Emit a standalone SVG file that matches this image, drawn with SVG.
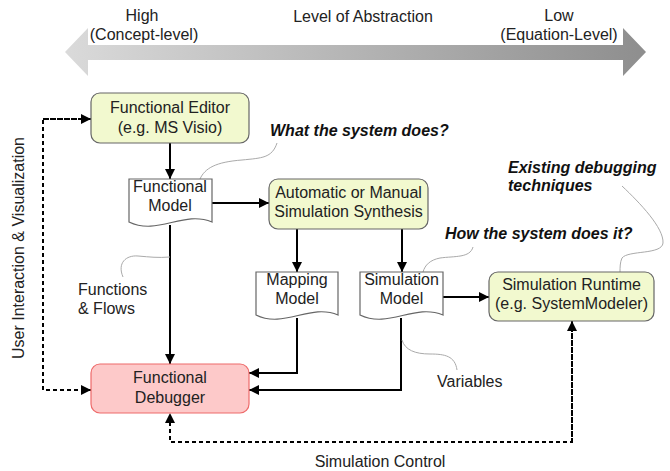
<svg xmlns="http://www.w3.org/2000/svg" width="670" height="471" viewBox="0 0 670 471">
<defs>
<linearGradient id="gr" x1="0" y1="0" x2="1" y2="0">
<stop offset="0" stop-color="#dadada"/>
<stop offset="1" stop-color="#8e8e8e"/>
</linearGradient>
<marker id="ah" viewBox="0 0 10 10" refX="10" refY="5" markerWidth="10" markerHeight="10" markerUnits="userSpaceOnUse" orient="auto">
<path d="M0,0 L10,5 L0,10 z" fill="#000"/>
</marker>
</defs>
<style>
text{font-family:"Liberation Sans",Arial,sans-serif;font-size:16px;fill:#222}
.c{text-anchor:middle}
.bi{font-weight:bold;font-style:italic;fill:#111}
.g{fill:#f2f9cf;stroke:#666;stroke-width:1.2}
.r{fill:#fdc9c9;stroke:#ee6a6a;stroke-width:1.2}
.doc{fill:#fff;stroke:#666;stroke-width:1.2}
.ln{fill:none;stroke:#000;stroke-width:2}
.dt{fill:none;stroke:#000;stroke-width:2;stroke-dasharray:4,3}
.cv{fill:none;stroke:#aaa;stroke-width:1}
</style>

<g id="abstraction-axis">
<path d="M65,52 L88,28 L88,45 L623,45 L623,28 L646,52 L623,76 L623,60 L88,60 L88,76 Z" fill="url(#gr)"/>
<text class="c" x="142" y="21">High</text>
<text class="c" x="144" y="40">(Concept-level)</text>
<text class="c" x="363" y="22">Level of Abstraction</text>
<text class="c" x="559" y="21">Low</text>
<text class="c" x="559" y="40">(Equation-Level)</text>
</g>

<g id="connectors">
<path class="ln" d="M170,143 L170,179" marker-end="url(#ah)"/>
<path class="ln" d="M212,203 L269,203" marker-end="url(#ah)"/>
<path class="ln" d="M297,229 L297,272" marker-end="url(#ah)"/>
<path class="ln" d="M402,229 L402,272" marker-end="url(#ah)"/>
<path class="ln" d="M443,297 L489,297" marker-end="url(#ah)"/>
<path class="ln" d="M170,225 L170,364" marker-end="url(#ah)"/>
<path class="ln" d="M297,318 L297,373 L249,373" marker-end="url(#ah)"/>
<path class="ln" d="M401,318 L401,390 L249,390" marker-end="url(#ah)"/>
<path class="dt" d="M91,119 L43,119 L43,390 L91,390" marker-end="url(#ah)"/>
<path class="dt" d="M43,119 L91,119" marker-end="url(#ah)"/>
<path class="dt" d="M572,321 L572,442 L170,442 L170,413" marker-end="url(#ah)"/>
<path class="dt" d="M572,442 L572,321" marker-end="url(#ah)"/>
</g>

<g id="annotations">
<path class="cv" d="M277,143 C272,158 262,158 242,160 C216,162 205,168 200,179"/>
<text class="bi" x="270" y="136">What the system does?</text>
<path class="cv" d="M123,277 C117,263 126,255 138,256 C150,257 158,258 170,257"/>
<text x="78" y="295">Functions</text>
<text x="78" y="314">&amp; Flows</text>
<text class="bi" x="508" y="173">Existing debugging</text>
<text class="bi" x="508" y="191">techniques</text>
<path class="cv" d="M622,186 C640,203 664,228 663,243 C662,255 628,250 622,258 C620,262 620,268 620,272"/>
<text class="bi" x="445" y="239">How the system does it?</text>
<path class="cv" d="M473,247 C470,258 455,256 440,258 C430,260 425,265 423,272"/>
<text x="437" y="387">Variables</text>
<path class="cv" d="M457,370 C455,356 445,354 430,354 C415,354 405,350 402,340"/>
<text class="c" x="380" y="467">Simulation Control</text>
<text class="c" transform="translate(24,248) rotate(-90)">User Interaction  &amp; Visualization</text>
</g>

<g id="functional-editor">
<rect class="g" x="91" y="93" width="158" height="50" rx="9"/>
<text class="c" x="170" y="113">Functional Editor</text>
<text class="c" x="170" y="133">(e.g. MS Visio)</text>
</g>

<g id="functional-model">
<path class="doc" d="M129,179 H212 V222 C183,210 158,236 129,222 Z"/>
<text class="c" x="170" y="192">Functional</text>
<text class="c" x="170" y="211">Model</text>
</g>

<g id="simulation-synthesis">
<rect class="g" x="269" y="179" width="159" height="50" rx="9"/>
<text class="c" x="348.5" y="198">Automatic or Manual</text>
<text class="c" x="348.5" y="217">Simulation Synthesis</text>
</g>

<g id="mapping-model">
<path class="doc" d="M256,272 H338 V315 C310,303 284,329 256,315 Z"/>
<text class="c" x="297" y="285">Mapping</text>
<text class="c" x="297" y="304">Model</text>
</g>

<g id="simulation-model">
<path class="doc" d="M360,272 H443 V315 C414,303 389,329 360,315 Z"/>
<text class="c" x="401.5" y="285">Simulation</text>
<text class="c" x="401.5" y="304">Model</text>
</g>

<g id="simulation-runtime">
<rect class="g" x="489" y="272" width="165" height="49" rx="9"/>
<text class="c" x="571.5" y="290">Simulation Runtime</text>
<text class="c" x="571.5" y="309">(e.g. SystemModeler)</text>
</g>

<g id="functional-debugger">
<rect class="r" x="91" y="364" width="158" height="49" rx="9"/>
<text class="c" x="170" y="383">Functional</text>
<text class="c" x="170" y="403">Debugger</text>
</g>
</svg>
